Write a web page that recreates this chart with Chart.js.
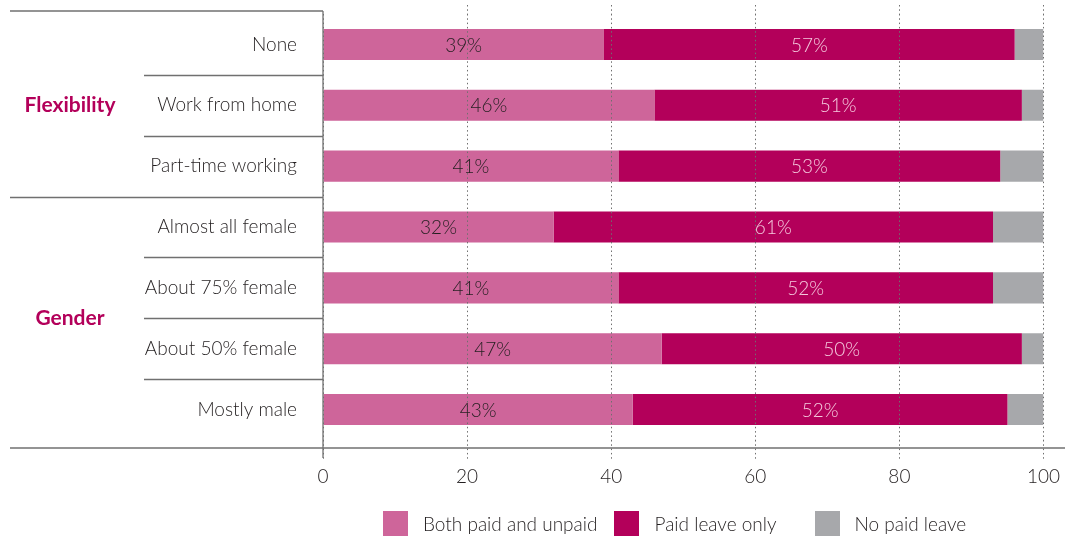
<!DOCTYPE html>
<html>
<head>
<meta charset="utf-8">
<script src="https://cdn.jsdelivr.net/npm/chart.js@4/dist/chart.umd.min.js"></script>
<style>
  html, body { margin: 0; padding: 0; background: #fff; }
  #wrap { position: relative; width: 1065px; height: 538px; }
  #legend { position: absolute; left: 383px; top: 511px; display: flex; align-items: center;
            font-family: Lato, sans-serif; font-weight: 300; font-size: 19px; color: #231f20; }
  #legend .item { display: flex; align-items: center; margin-right: 17px; }
  #legend .item:nth-child(2) { margin-right: 38px; }
  #legend .box { width: 25px; height: 25px; margin-right: 15px; }
</style>
</head>
<body>
<div id="wrap">
  <canvas id="c" width="1065" height="538"></canvas>
  <div id="legend"></div>
</div>
<script>
// Share of organisations offering each type of leave, by workplace flexibility and gender mix
const categories = ['None', 'Work from home', 'Part-time working',
                    'Almost all female', 'About 75% female', 'About 50% female', 'Mostly male'];
const groupNames  = ['Flexibility', 'Gender'];
const groupFirst  = [0, 3];
const groupLast   = [2, 6];

const bothPaidUnpaid = [39, 46, 41, 32, 41, 47, 43];
const paidLeaveOnly  = [57, 51, 53, 61, 52, 50, 52];
const noPaidLeave    = [4, 3, 6, 7, 7, 3, 5];

const xTicks = [0, 20, 40, 60, 80, 100];

const seriesNames  = ['Both paid and unpaid', 'Paid leave only', 'No paid leave'];
const seriesColors = ['#ce659a', '#b3005a', '#a7a8ab'];
const labelColors  = ['#231f20', '#f4c9dd', null];

const FONT = 'Lato, sans-serif';
const SIZE = 19;
const WEIGHT = 300;
const INK = '#231f20';
const RULE = '#707070';
const DOTS = [1.5, 2.8];
const GRID = '#6f6f6f';

// Percent labels centred in the two coloured segments
const segmentLabels = {
  id: 'segmentLabels',
  afterDraw(chart) {
    const ctx = chart.ctx;
    ctx.save();
    ctx.font = WEIGHT + ' ' + SIZE + 'px ' + FONT;
    ctx.textAlign = 'center';
    ctx.textBaseline = 'middle';
    chart.data.datasets.forEach((ds, di) => {
      if (!labelColors[di]) return;
      const meta = chart.getDatasetMeta(di);
      meta.data.forEach((bar, i) => {
        const cx = (bar.x + bar.base) / 2;
        ctx.fillStyle = labelColors[di];
        ctx.fillText(ds.data[i] + '%', cx, bar.y + 1);
      });
    });
    ctx.restore();
  }
};

// Row separators, group headings and the solid frame lines
const tableFrame = {
  id: 'tableFrame',
  afterDraw(chart) {
    const ctx = chart.ctx;
    const area = chart.chartArea;
    const x = chart.scales.x;
    const y = chart.scales.y;
    const topY = area.top - 3;
    const axisY = area.bottom + 8;
    ctx.save();

    // dotted gridlines continue up to the top edge
    ctx.strokeStyle = GRID;
    ctx.lineWidth = 1;
    ctx.setLineDash(DOTS);
    xTicks.slice(1).forEach(v => {
      const px = Math.round(x.getPixelForValue(v)) + 0.5;
      ctx.beginPath(); ctx.moveTo(px, 5); ctx.lineTo(px, area.top); ctx.stroke();
    });
    ctx.setLineDash([]);

    ctx.strokeStyle = RULE;
    ctx.lineWidth = 1.3;
    const line = (x1, y1, x2, y2) => {
      ctx.beginPath(); ctx.moveTo(x1, y1); ctx.lineTo(x2, y2); ctx.stroke();
    };
    line(10, topY, area.left, topY);
    for (let i = 0; i < categories.length - 1; i++) {
      const yy = Math.round((y.getPixelForValue(i) + y.getPixelForValue(i + 1)) / 2) + 0.5;
      const isGroupEdge = groupFirst.includes(i + 1);
      line(isGroupEdge ? 10 : 144, yy, area.left, yy);
    }
    line(10, axisY, chart.width, axisY);
    line(area.left, topY, area.left, axisY + 10);

    ctx.fillStyle = seriesColors[1];
    ctx.font = 'bold 21px ' + FONT;
    ctx.textAlign = 'center';
    ctx.textBaseline = 'middle';
    groupNames.forEach((name, g) => {
      const gy = (y.getPixelForValue(groupFirst[g]) + y.getPixelForValue(groupLast[g])) / 2;
      ctx.fillText(name, 70, gy);
    });
    ctx.restore();
  }
};

const datasets = [bothPaidUnpaid, paidLeaveOnly, noPaidLeave].map((values, i) => ({
  label: seriesNames[i],
  data: values,
  backgroundColor: seriesColors[i],
  borderWidth: 0,
  categoryPercentage: 1,
  barPercentage: 0.51
}));

new Chart(document.getElementById('c'), {
  type: 'bar',
  data: { labels: categories, datasets },
  options: {
    indexAxis: 'y',
    responsive: false,
    animation: false,
    layout: { padding: { top: 14, right: 20, bottom: 48, left: 0 } },
    plugins: { legend: { display: false }, tooltip: { enabled: false } },
    scales: {
      x: {
        stacked: true,
        min: 0, max: 100,
        afterBuildTicks(scale) { scale.ticks = xTicks.map(v => ({ value: v })); },
        afterFit(scale) { scale.height = 50; },
        border: { display: false, dash: DOTS },
        grid: {
          color: GRID, lineWidth: 1, z: 1,
          tickLength: 20, tickColor: GRID, tickBorderDash: DOTS
        },
        ticks: { color: INK, padding: 5, font: { family: FONT, size: SIZE, weight: WEIGHT } }
      },
      y: {
        stacked: true,
        afterFit(scale) { scale.width = 323; },
        border: { display: false },
        grid: { display: true, drawOnChartArea: false, drawTicks: true,
                tickLength: 26, tickColor: 'rgba(0,0,0,0)', color: 'rgba(0,0,0,0)' },
        ticks: { color: INK, padding: 0, autoSkip: false, font: { family: FONT, size: SIZE, weight: WEIGHT } }
      }
    }
  },
  plugins: [tableFrame, segmentLabels]
});

// Legend entries built from the series names and colours
const legend = document.getElementById('legend');
seriesNames.forEach((name, i) => {
  const item = document.createElement('div');
  item.className = 'item';
  const box = document.createElement('div');
  box.className = 'box';
  box.style.background = seriesColors[i];
  const txt = document.createElement('span');
  txt.textContent = name;
  item.appendChild(box); item.appendChild(txt);
  legend.appendChild(item);
});
</script>
</body>
</html>
